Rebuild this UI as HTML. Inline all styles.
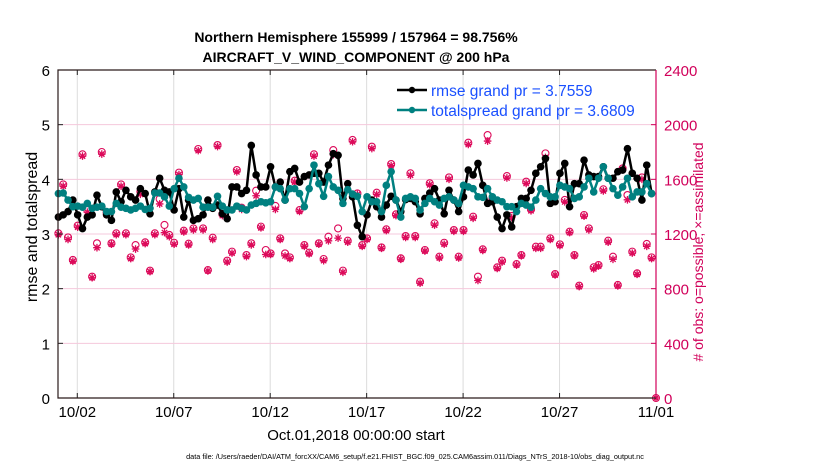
<!DOCTYPE html>
<html><head><meta charset="utf-8">
<style>
html,body{margin:0;padding:0;background:#fff;}
svg{display:block;font-family:"Liberation Sans",Arial,sans-serif;}
</style></head>
<body>
<svg id="chart" width="830" height="470" viewBox="0 0 830 470" xmlns="http://www.w3.org/2000/svg">
<rect width="830" height="470" fill="#fff"/>
<text x="356" y="42" text-anchor="middle" font-size="14" font-weight="bold">Northern Hemisphere 155999 / 157964 = 98.756%</text>
<text x="356" y="62" text-anchor="middle" font-size="14" font-weight="bold">AIRCRAFT_V_WIND_COMPONENT @ 200 hPa</text>
<g id="grid"></g>
<g id="marks"></g>
<g id="axes"></g>
<text transform="translate(37,227) rotate(-90)" text-anchor="middle" font-size="16">rmse and totalspread</text>
<text transform="translate(703,252) rotate(-90)" text-anchor="middle" font-size="14" fill="#d1005a"># of obs: o=possible; ×=assimilated</text>
<text x="356" y="440" text-anchor="middle" font-size="15">Oct.01,2018 00:00:00 start</text>
<text x="415" y="459" text-anchor="middle" font-size="7.3">data file: /Users/raeder/DAI/ATM_forcXX/CAM6_setup/f.e21.FHIST_BGC.f09_025.CAM6assim.011/Diags_NTrS_2018-10/obs_diag_output.nc</text>
<g>
 <line x1="397" y1="90" x2="427" y2="90" stroke="#000" stroke-width="2.5"/>
 <circle cx="412" cy="90" r="3.2" fill="#000"/>
 <text x="431" y="96" font-size="15.5" fill="#1a50ff">rmse grand pr = 3.7559</text>
 <line x1="397" y1="110" x2="427" y2="110" stroke="#008080" stroke-width="2.5"/>
 <circle cx="412" cy="110" r="3.2" fill="#008080"/>
 <text x="431" y="116" font-size="15.5" fill="#1a50ff">totalspread grand pr = 3.6809</text>
</g>
</svg>
<script>
const rmse = [3.31,3.35,3.41,3.62,3.35,3.10,3.31,3.35,3.71,3.50,3.35,3.25,3.77,3.59,3.80,3.68,3.62,3.83,3.74,3.37,3.77,4.02,3.80,3.77,3.44,3.83,3.31,3.62,3.25,3.28,3.35,3.62,3.47,3.53,3.37,3.28,3.86,3.86,3.74,3.80,4.62,4.08,3.86,3.86,4.23,3.86,3.95,3.62,4.14,4.20,3.95,4.05,4.08,4.11,4.11,3.95,4.26,4.47,4.44,3.65,3.92,3.68,3.16,
2.95,3.35,3.62,3.50,3.31,3.53,3.69,3.62,3.41,3.63,3.65,3.59,3.37,3.65,3.75,3.83,3.62,3.37,3.80,3.62,3.41,3.68,4.17,4.08,4.29,3.89,3.56,3.59,3.31,3.10,3.35,3.13,3.50,3.65,3.65,3.80,4.11,4.23,4.38,3.56,3.59,4.11,4.29,3.50,3.92,3.92,4.35,4.08,4.05,4.05,4.23,4.02,4.02,4.14,4.17,4.56,4.11,4.02,3.62,4.26,3.74];
const spread = [3.74,3.75,3.62,3.50,3.51,3.49,3.56,3.47,3.49,3.51,3.41,3.41,3.56,3.49,3.47,3.44,3.47,3.51,3.45,3.47,3.75,3.75,3.68,3.51,3.83,4.02,3.86,3.67,3.62,3.65,3.49,3.49,3.49,3.69,3.51,3.44,3.44,3.51,3.47,3.44,3.53,3.56,3.59,3.57,3.59,3.86,3.83,3.62,3.83,3.83,3.74,3.50,3.83,4.26,3.92,3.69,4.05,3.86,3.80,3.56,3.81,3.73,3.69,
3.41,3.68,3.59,3.59,3.41,3.89,4.14,3.62,3.31,3.65,3.68,3.65,3.44,3.56,3.65,3.59,3.53,3.65,3.68,3.62,3.56,3.89,3.86,3.83,3.68,3.67,3.83,3.68,3.62,3.59,3.50,3.50,3.41,3.56,3.53,3.49,3.62,3.83,3.74,3.68,3.68,3.89,3.86,3.83,3.65,3.68,3.86,4.02,3.77,4.02,4.23,4.02,3.83,3.71,3.86,4.02,3.68,3.77,3.77,3.92,3.74];
const obsPossible = [1205,1563,1175,1010,1261,1783,1375,888,1132,1800,1356,1132,1205,1563,1205,1029,1119,1510,1139,932,1205,1456,1266,1193,1136,1649,1224,1129,1241,1822,1241,936,1173,1851,1346,1005,1071,1668,1393,1046,1132,1517,1254,1083,1058,1405,1168,1058,1029,1590,1375,1119,1063,1783,1132,1017,1180,1814,1241,932,1151,1888,
1497,1119,1168,1839,1502,1102,1234,1712,1344,1022,1185,1644,1185,851,1083,1571,1278,1034,1136,1614,1229,1034,1229,1868,1327,888,1088,1924,1456,956,1005,1624,1332,980,1046,1583,1380,1107,1107,1790,1168,907,1124,1449,1217,1046,822,1339,1241,956,973,1527,1151,1034,827,1680,1485,1071,912,1614,1127,1029];
const obsAssim = [1195,1550,1160,1000,1250,1770,1360,880,1100,1785,1340,1125,1195,1550,1195,1020,1090,1490,1130,925,1195,1420,1210,1180,1125,1635,1215,1120,1230,1810,1230,930,1160,1840,1335,995,1060,1655,1380,1035,1120,1480,1245,1050,1050,1380,1160,1040,1020,1580,1365,1110,1055,1770,1125,1005,1150,1780,1170,920,1140,1875,
1490,1110,1160,1825,1490,1095,1225,1700,1335,1015,1175,1630,1175,840,1075,1560,1265,1025,1125,1600,1220,1025,1220,1855,1315,860,1080,1880,1445,948,995,1610,1320,972,1040,1570,1370,1095,1095,1760,1160,900,1115,1435,1210,1040,815,1330,1230,945,965,1515,1140,1015,820,1670,1450,1060,905,1600,1110,1020];
const lastObsDay = [31];
const lastObsValue = [0];
const xTickDays = [1,6,11,16,21,26,31];
const xTickLabels = ['10/02','10/07','10/12','10/17','10/22','10/27','11/01'];
const yTicksLeft = [0,1,2,3,4,5,6];
const yTicksRight = [0,400,800,1200,1600,2000,2400];

const NS='http://www.w3.org/2000/svg';
const L=58,R=656,T=70,B=398;
const xs = d => L + (d/31)*(R-L);
const yl = v => B - (v/6)*(B-T);
const yr = v => B - (v/2400)*(B-T);
const stepDay = 0.25, startDay = 0.02;
function mk(tag, attrs, parent){const e=document.createElementNS(NS,tag);for(const k in attrs)e.setAttribute(k,attrs[k]);parent.appendChild(e);return e;}
const grid=document.getElementById('grid'), marks=document.getElementById('marks'), axes=document.getElementById('axes');

xTickDays.forEach((d,i)=>{
  const g=mk('line',{x1:xs(d),x2:xs(d),y1:T,y2:B,stroke:'#dcdcdc','stroke-width':1},grid);
  
  
  const t=mk('line',{x1:xs(d),x2:xs(d),y1:B,y2:B-5,stroke:'#222','stroke-width':1},axes);
  
  
  const t2=mk('line',{x1:xs(d),x2:xs(d),y1:T,y2:T+5,stroke:'#222','stroke-width':1},axes);
  
  
  const lb=mk('text',{x:xs(d),y:B+19,'text-anchor':'middle','font-size':15},axes);
  lb.textContent=xTickLabels[i];
  
  
});
yTicksLeft.forEach(v=>{
  if(v>0&&v<6){const g=mk('line',{x1:L,x2:R,y1:yl(v),y2:yl(v),stroke:'#f5c8dc','stroke-width':1},grid);
  
  }
  const t=mk('line',{x1:L,x2:L+5,y1:yl(v),y2:yl(v),stroke:'#222'},axes);
  
  
  const lb=mk('text',{x:L-8,y:yl(v)+6,'text-anchor':'end','font-size':15},axes);
  lb.textContent=v;
  
  
});
yTicksRight.forEach(v=>{
  const t=mk('line',{x1:R-5,x2:R,y1:yr(v),y2:yr(v),stroke:'#d1005a'},axes);
  
  
  const lb=mk('text',{x:R+8,y:yr(v)+6,'font-size':15,fill:'#d1005a'},axes);
  lb.textContent=v;
  
  
});
const ax1=mk('path',{d:`M${R} ${T}H${L}V${B}H${R}`,fill:'none',stroke:'#2a1a1a','stroke-width':1.2},axes);


const ax2=mk('line',{x1:R,x2:R,y1:T,y2:B,stroke:'#d1005a','stroke-width':1.2},axes);



const obsStep = (30.75)/(obsPossible.length-1);
function star(cx,cy,r,parent){
  let d='';for(let k=0;k<4;k++){const a=k*Math.PI/4;d+=`M${cx-r*Math.cos(a)} ${cy-r*Math.sin(a)}L${cx+r*Math.cos(a)} ${cy+r*Math.sin(a)}`;}
  return mk('path',{d,stroke:'#dc0a5a','stroke-width':1.3,fill:'none'},parent);
}
obsPossible.forEach((v,i)=>{
  const c=mk('circle',{cx:xs(startDay+i*obsStep),cy:yr(v),r:3.5,fill:'none',stroke:'#dc0a5a','stroke-width':1.1},marks);
  
  
});
obsAssim.forEach((v,i)=>{
  const s=star(xs(startDay+i*obsStep),yr(v),3.8,marks);
  
  
});
lastObsDay.forEach((d,i)=>{
  const c=mk('circle',{cx:xs(d),cy:yr(lastObsValue[i]),r:3.5,fill:'none',stroke:'#dc0a5a'},marks);
  
  
  const s=star(xs(d),yr(lastObsValue[i]),3.8,marks);
  
  
});

function series(vals,color,name,r){
  const pts=vals.map((v,i)=>`${xs(startDay+i*stepDay).toFixed(1)},${yl(v).toFixed(1)}`).join(' ');
  const pl=mk('polyline',{points:pts,fill:'none',stroke:color,'stroke-width':2.5,'stroke-linejoin':'round'},marks);
  
  
  vals.forEach((v,i)=>{
    const c=mk('circle',{cx:xs(startDay+i*stepDay),cy:yl(v),r:r,fill:color},marks);
    
    
  });
}
series(rmse,'#000','rmse',3.8);
series(spread,'#008080','totalspread',3.8);
</script>
</body></html>
